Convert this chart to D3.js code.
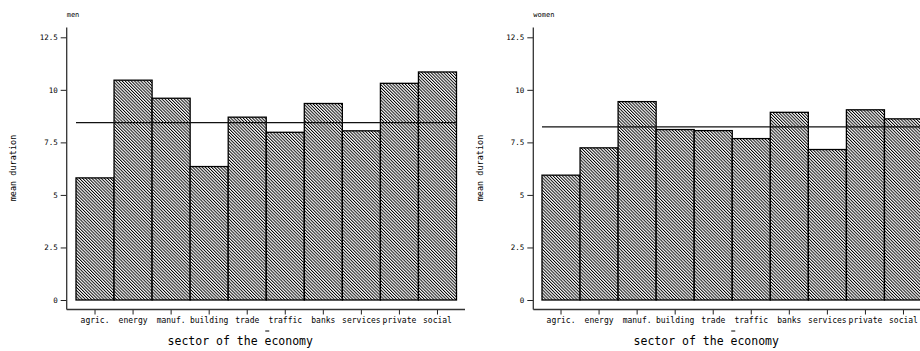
<!DOCTYPE html>
<html><head><meta charset="utf-8">
<script src="https://cdn.jsdelivr.net/npm/d3@7"></script>
<style>body{margin:0;background:#fff}svg{display:block}text{font-family:"DejaVu Sans Mono",monospace;fill:#000}</style>
</head><body>
<svg id="c" width="920" height="351"></svg>
<script>
const categories = ["agric.","energy","manuf.","building","trade","traffic","banks","services","private","social"];
const menValues = [5.81,10.46,9.60,6.35,8.70,7.98,9.35,8.05,10.31,10.85];
const womenValues = [5.94,7.24,9.44,8.11,8.06,7.68,8.93,7.16,9.05,8.62];
const meanValues = {men: 8.44, women: 8.24};
const yTicks = [0,2.5,5,7.5,10,12.5];
const yTickLabels = ["0","2.5","5","7.5","10","12.5"];
const panelTitles = ["men","women"];
const yTitle = "mean duration";
const xTitle = "sector of the economy";

const svg = d3.select("#c");
const defs = svg.append("defs");
const pat = defs.append("pattern").attr("id","hatch").attr("patternUnits","userSpaceOnUse")
  .attr("width",2.2).attr("height",10).attr("patternTransform","rotate(-45)");
pat.append("rect").attr("width",2.2).attr("height",10).attr("fill","#fff");
pat.append("rect").attr("x",0).attr("y",0).attr("width",0.95).attr("height",10).attr("fill","#000");

const panels = [
  {title: panelTitles[0], values: menValues, mean: meanValues.men, axisX: 66.7, x0: 76, x1: 456.5, xAxisEnd: 465, yTitleX: 13},
  {title: panelTitles[1], values: womenValues, mean: meanValues.women, axisX: 533.3, x0: 542, x1: 922.5, xAxisEnd: 925, yTitleX: 480}
];

const y = d3.scaleLinear().domain([0,12.5]).range([300,37.3]);
const xAxisY = 309.5;

panels.forEach(p => {
  const g = svg.append("g");
  const x = d3.scaleBand().domain(categories).range([p.x0,p.x1]).padding(0);
  g.selectAll("rect.bar").data(p.values).join("rect").attr("class","bar")
    .attr("x",(d,i)=>x(categories[i])).attr("width",x.bandwidth())
    .attr("y",d=>y(d)).attr("height",d=>y(0)-y(d))
    .attr("fill","url(#hatch)").attr("stroke","#000").attr("stroke-width",1.3);
  g.append("line").attr("x1",p.x0).attr("x2",p.x1).attr("y1",y(p.mean)).attr("y2",y(p.mean))
    .attr("stroke","#111").attr("stroke-width",1.2);
  const ya = d3.axisLeft(y).tickValues(yTicks).tickFormat((d,i)=>yTickLabels[i]).tickSize(6).tickPadding(3);
  const yg = g.append("g").attr("transform",`translate(${p.axisX},0)`).call(ya);
  yg.select(".domain").remove();
  yg.selectAll("text").style("font-size","7.5px");
  yg.selectAll("line").attr("stroke","#222");
  g.append("line").attr("x1",p.axisX).attr("x2",p.axisX).attr("y1",27.5).attr("y2",xAxisY)
    .attr("stroke","#333").attr("stroke-width",1.3);
  const xa = d3.axisBottom(x).tickSize(5).tickPadding(3);
  const xg = g.append("g").attr("transform",`translate(0,${xAxisY})`).call(xa);
  xg.select(".domain").remove();
  xg.selectAll("text").style("font-size","8px");
  xg.selectAll("line").attr("stroke","#222");
  g.append("line").attr("x1",p.axisX).attr("x2",p.xAxisEnd).attr("y1",xAxisY).attr("y2",xAxisY)
    .attr("stroke","#333").attr("stroke-width",1.3);
  g.append("text").attr("x",p.axisX).attr("y",17).style("font-size","7px").text(p.title);
  g.append("text").attr("transform",`translate(${p.yTitleX+3},168) rotate(-90)`).attr("text-anchor","middle")
    .style("font-size","8.5px").text(yTitle);
  const cx = (p.x0 + p.x0 + x.bandwidth()*10)/2 - 26;
  g.append("text").attr("x",cx).attr("y",345).attr("text-anchor","middle").style("font-size","11.5px").text(xTitle);
  g.append("line").attr("x1",cx+25).attr("x2",cx+29).attr("y1",331).attr("y2",331).attr("stroke","#000");
});
</script>
</body></html>
